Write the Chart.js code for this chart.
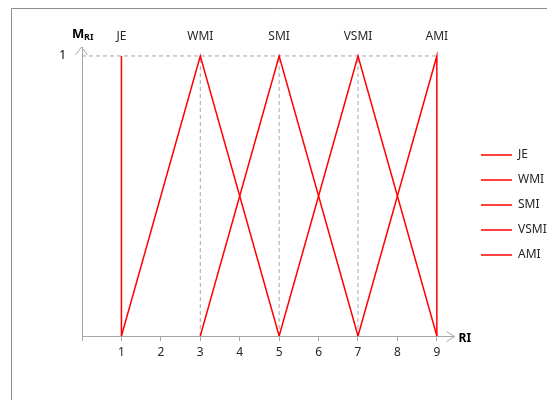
<!DOCTYPE html>
<html>
<head>
<meta charset="utf-8">
<script src="https://cdn.jsdelivr.net/npm/chart.js@4.4.0/dist/chart.umd.min.js"></script>
<style>
  body { margin: 0; background: #fff; }
</style>
</head>
<body>
<canvas id="ri-chart" width="547" height="400"></canvas>
<script>
// values
const riTicks = [0, 1, 2, 3, 4, 5, 6, 7, 8, 9];
const seriesNames = ['JE', 'WMI', 'SMI', 'VSMI', 'AMI'];
const jeX = [1, 1],      jeY = [0, 1];
const wmiX = [1, 3, 5],  wmiY = [0, 1, 0];
const smiX = [3, 5, 7],  smiY = [0, 1, 0];
const vsmiX = [5, 7, 9], vsmiY = [0, 1, 0];
const amiX = [7, 9, 9],  amiY = [0, 1, 0];
const peakAt = [1, 3, 5, 7, 9];
const guideLevel = 1;
const guideCols = [3, 5, 7];

const xMax = 9.79;
const xArrowEnd = 9.45;
const grey = '#a6a6a6';
const red = '#ff0000';

const pts = (xs, ys) => xs.map((v, i) => ({ x: v, y: ys[i] }));

const seriesData = [pts(jeX, jeY), pts(wmiX, wmiY), pts(smiX, smiY), pts(vsmiX, vsmiY), pts(amiX, amiY)];

const datasets = seriesData.map((d, i) => ({
    label: seriesNames[i],
    data: d,
    borderColor: red,
    backgroundColor: red,
    borderWidth: 1.5,
    order: 0
}));

// dashed helper lines
datasets.push({
    label: '',
    data: pts([0, 9], [guideLevel, guideLevel]),
    borderColor: grey,
    borderWidth: 1,
    borderDash: [4, 3],
    order: 1
});
guideCols.forEach(c => {
    datasets.push({
        label: '',
        data: pts([c, c], [0, guideLevel]),
        borderColor: grey,
        borderWidth: 1,
        borderDash: [4, 3],
        order: 1
    });
});

const axisArrows = {
    id: 'axisArrows',
    beforeDraw(chart) {
        const ctx = chart.ctx;
        ctx.save();
        ctx.strokeStyle = '#8c8c8c';
        ctx.lineWidth = 1;
        ctx.beginPath();
        ctx.moveTo(11.5, 400);
        ctx.lineTo(11.5, 8.5);
        ctx.lineTo(547, 8.5);
        ctx.stroke();
        ctx.restore();
    },
    afterDraw(chart) {
        const { ctx, scales: { x, y } } = chart;
        const x0 = x.getPixelForValue(0);
        const xe = x.getPixelForValue(xArrowEnd);
        const yb = Math.round(y.getPixelForValue(0)) + 0.5;
        const yt = y.top;
        const xl = Math.round(x0) - 0.5;
        ctx.save();
        ctx.strokeStyle = grey;
        ctx.lineWidth = 1;
        ctx.beginPath();
        ctx.moveTo(x0, yb);
        ctx.lineTo(xe, yb);
        ctx.stroke();
        // arrow heads
        ctx.beginPath();
        ctx.moveTo(xe - 8, yb - 5);
        ctx.lineTo(xe, yb);
        ctx.lineTo(xe - 8, yb + 5);
        ctx.moveTo(xl - 6, yt + 8);
        ctx.lineTo(xl, yt);
        ctx.lineTo(xl + 6, yt + 8);
        ctx.stroke();
        // axis names
        ctx.fillStyle = '#000';
        ctx.textBaseline = 'alphabetic';
        ctx.font = 'bold 13px "Noto Sans"';
        ctx.fillText('M', 72, 38);
        ctx.font = 'bold 9px "Noto Sans"';
        ctx.fillText('RI', 84, 40);
        ctx.font = 'bold 12px "Noto Sans"';
        ctx.textBaseline = 'middle';
        ctx.fillText('RI', xe + 4, yb + 2);
        ctx.restore();
    }
};

const tickFont = { family: '"Noto Sans"', size: 12 };

new Chart(document.getElementById('ri-chart'), {
    type: 'scatter',
    data: { datasets: datasets },
    options: {
        responsive: false,
        animation: false,
        showLine: true,
        elements: { point: { radius: 0, hoverRadius: 0 } },
        layout: { padding: { top: 10, left: 0, right: 0, bottom: 0 } },
        plugins: {
            tooltip: { enabled: false },
            legend: {
                position: 'right',
                maxWidth: 79,
                labels: {
                    usePointStyle: true,
                    pointStyle: 'line',
                    pointStyleWidth: 31,
                    padding: 13,
                    color: '#262626',
                    font: tickFont,
                    filter: item => item.text !== ''
                }
            }
        },
        scales: {
            x: {
                type: 'linear',
                position: 'bottom',
                min: 0,
                max: xMax,
                afterBuildTicks: s => { s.ticks = riTicks.map(v => ({ value: v })); },
                afterFit: s => { s.height = 64; },
                ticks: {
                    callback: v => (v === 0 ? '' : v),
                    color: '#262626',
                    font: tickFont,
                    padding: 4,
                    maxRotation: 0,
                    autoSkip: false
                },
                grid: { drawOnChartArea: false, drawTicks: true, tickLength: 5, color: grey },
                border: { display: false }
            },
            x2: {
                type: 'linear',
                position: 'top',
                min: 0,
                max: xMax,
                afterBuildTicks: s => { s.ticks = peakAt.map(v => ({ value: v })); },
                afterFit: s => { s.height = 37; },
                ticks: {
                    callback: v => seriesNames[peakAt.indexOf(v)],
                    color: '#262626',
                    font: tickFont,
                    padding: 3,
                    maxRotation: 0,
                    autoSkip: false
                },
                grid: { display: false, drawTicks: false },
                border: { display: false }
            },
            y: {
                min: 0,
                max: 1.032,
                afterBuildTicks: s => { s.ticks = [{ value: guideLevel }]; },
                afterFit: s => { s.width = 82; },
                ticks: {
                    callback: v => v,
                    color: '#000',
                    font: tickFont,
                    padding: 16
                },
                grid: { display: false, drawTicks: false },
                border: { color: grey, width: 1 }
            }
        }
    },
    plugins: [axisArrows]
});
</script>
</body>
</html>
